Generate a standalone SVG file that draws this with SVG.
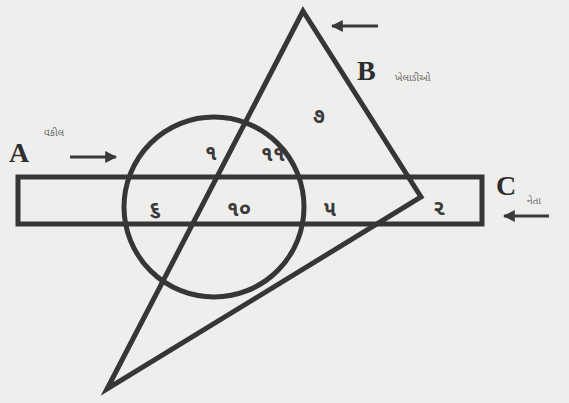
<svg xmlns="http://www.w3.org/2000/svg" width="569" height="403" viewBox="0 0 569 403">
<defs>
<marker id="ah" viewBox="0 0 10 10" refX="9" refY="5" markerWidth="4" markerHeight="4" orient="auto"><path d="M0,0 L10,5 L0,10 z" fill="#3a3a3a"/></marker>
</defs>
<style>
.sh{fill:none;stroke:#363636;stroke-width:5;stroke-linejoin:miter}
.lab{font-family:"Liberation Serif",serif;font-weight:bold;font-size:28px;fill:#2e2e2e}
.sm{font-family:"Noto Sans","Noto Sans Gujarati",sans-serif;font-size:10px;fill:#666}
.num{font-family:"Noto Sans","Noto Sans Gujarati",sans-serif;font-size:21px;font-weight:bold;fill:#3a3a3a;text-anchor:middle}
.ar{stroke:#3a3a3a;stroke-width:3;fill:none;marker-end:url(#ah)}
</style>
<rect width="569" height="403" fill="#eeeeec"/>
<g id="rect-C"><rect class="sh" x="18" y="177" width="464" height="47"/></g>
<g id="circle-A"><circle class="sh" cx="214" cy="207" r="90"/></g>
<g id="triangle-B"><polygon class="sh" points="303,11 421,197 107,389"/></g>
<g id="connectors">
<line class="ar" x1="70" y1="157" x2="116" y2="157"/>
<line class="ar" x1="378" y1="26" x2="332" y2="26"/>
<line class="ar" x1="549" y1="216" x2="504" y2="216"/>
</g>
<g id="labels">
<text class="lab" x="9" y="162">A</text>
<text class="sm" x="44" y="136">વકીલ</text>
<text class="lab" x="357" y="80">B</text>
<text class="sm" x="395" y="81">ખેલાડીઓ</text>
<text class="lab" x="496" y="195">C</text>
<text class="sm" x="527" y="204">નેતા</text>
</g>
<g id="regions">
<text class="num" x="211" y="160">૧</text>
<text class="num" x="273" y="161">૧૧</text>
<text class="num" x="319" y="123">૭</text>
<text class="num" x="155" y="216">૬</text>
<text class="num" x="239" y="216">૧૦</text>
<text class="num" x="330" y="216">૫</text>
<text class="num" x="439" y="215">૨</text>
</g>
</svg>
